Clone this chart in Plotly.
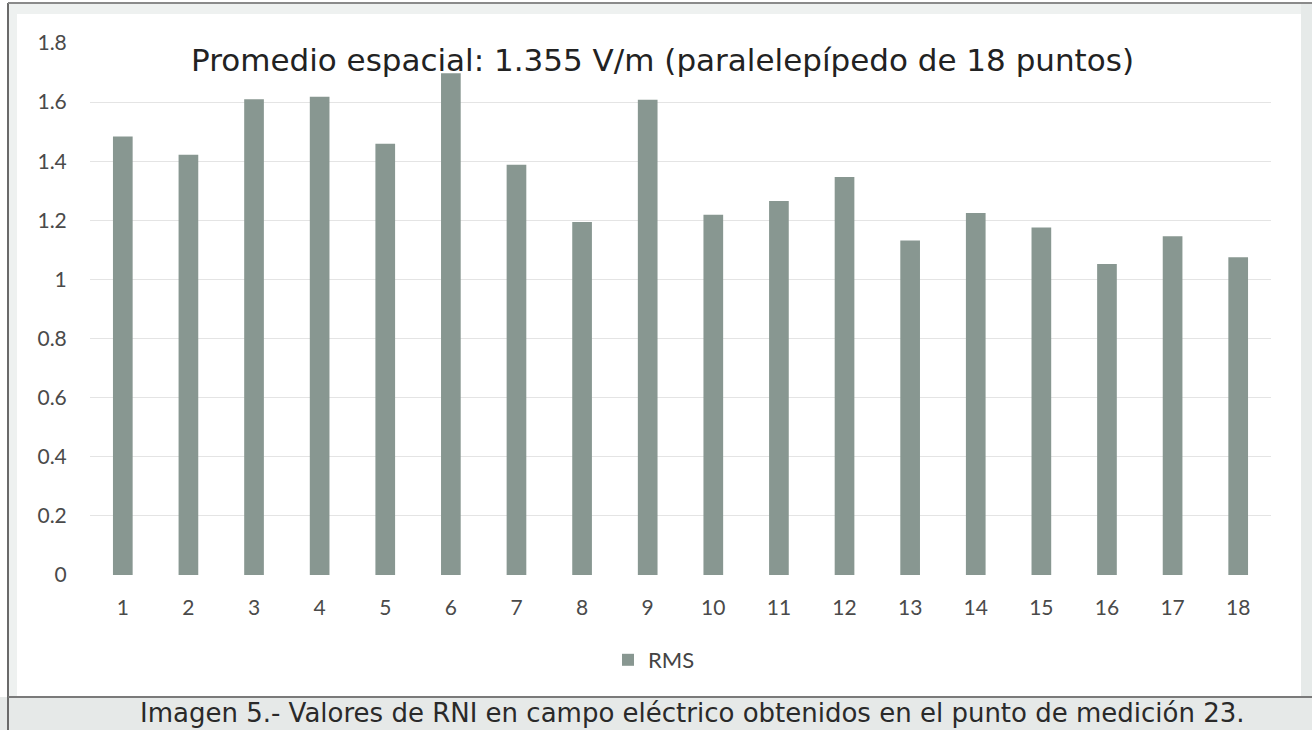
import plotly.graph_objects as go

categories = [str(i) for i in range(1, 19)]
rms_values = [1.484, 1.422, 1.610, 1.618, 1.459, 1.698, 1.388, 1.194, 1.608,
              1.219, 1.265, 1.347, 1.132, 1.225, 1.176, 1.052, 1.146, 1.075]
y_tick_vals = [0, 0.2, 0.4, 0.6, 0.8, 1.0, 1.2, 1.4, 1.6, 1.8]
y_tick_text = ["0", "0.2", "0.4", "0.6", "0.8", "1", "1.2", "1.4", "1.6", "1.8"]
series_name = "RMS"
title_text = "Promedio espacial: 1.355 V/m (paralelepípedo de 18 puntos)"
caption_text = "Imagen 5.- Valores de RNI en campo eléctrico obtenidos en el punto de medición 23."

W, H = 1312, 730
L, R, T, B = 90, 41, 43, 155
PW, PH = W - L - R, H - T - B

def px(x):
    return (x - L) / PW

def py(y):
    return (H - B - y) / PH

FONT = "Lato"
WIDE = "DejaVu Sans"
BAR = "#889791"

fig = go.Figure()
fig.add_trace(go.Bar(x=categories, y=rms_values, name=series_name,
                     marker=dict(color=BAR, line=dict(width=0)), width=0.3,
                     showlegend=True))

shapes = []
shapes.append(dict(type="rect", xref="paper", yref="paper", x0=px(0), x1=px(W), y0=py(730), y1=py(697),
                   fillcolor="#e6e9e8", line=dict(width=0), layer="below"))
shapes.append(dict(type="rect", xref="paper", yref="paper", x0=px(8), x1=px(17), y0=py(697), y1=py(3),
                   fillcolor="#eef1f0", line=dict(width=0), layer="below"))
shapes.append(dict(type="rect", xref="paper", yref="paper", x0=px(8), x1=px(1312), y0=py(14), y1=py(3),
                   fillcolor="#eef1f0", line=dict(width=0), layer="below"))
shapes.append(dict(type="rect", xref="paper", yref="paper", x0=px(1301), x1=px(1312), y0=py(697), y1=py(3),
                   fillcolor="#e6eae9", line=dict(width=0), layer="below"))
shapes.append(dict(type="line", xref="paper", yref="paper", x0=px(8), x1=px(8), y0=py(730), y1=py(3),
                   line=dict(color="#6a6a6a", width=2)))
shapes.append(dict(type="line", xref="paper", yref="paper", x0=px(8), x1=px(1312), y0=py(3), y1=py(3),
                   line=dict(color="#8a8a8a", width=2)))
shapes.append(dict(type="line", xref="paper", yref="paper", x0=px(8), x1=px(1312), y0=py(697), y1=py(697),
                   line=dict(color="#7a7a7a", width=2)))

fig.update_layout(
    width=W, height=H,
    margin=dict(l=L, r=R, t=T, b=B),
    paper_bgcolor="white", plot_bgcolor="white",
    font=dict(family=FONT, color="#4a4a4a", size=20),
    shapes=shapes,
    showlegend=True,
    legend=dict(orientation="h", x=px(654), xanchor="center", y=py(660), yanchor="middle",
                font=dict(size=22, color="#444444", family=FONT), itemwidth=30,
                bgcolor="rgba(0,0,0,0)"),
    xaxis=dict(type="category", showgrid=False, zeroline=False, showline=False,
               ticks="outside", ticklen=14, tickcolor="rgba(0,0,0,0)",
               tickfont=dict(size=21, color="#4a4a4a", family=FONT), range=[-0.5, 17.5]),
    yaxis=dict(range=[0, 1.8], tickvals=y_tick_vals, ticktext=y_tick_text,
               showgrid=True, gridcolor="#e4e4e4", gridwidth=1, zeroline=False, showline=False,
               ticks="outside", ticklen=18, tickcolor="rgba(0,0,0,0)",
               tickfont=dict(size=21, color="#4a4a4a", family=FONT)),
    annotations=[
        dict(text=title_text, xref="paper", yref="paper", x=px(662), y=py(60),
             xanchor="center", yanchor="middle", showarrow=False,
             font=dict(size=31, color="#222222", family=WIDE)),
        dict(text=caption_text, xref="paper", yref="paper", x=px(692), y=py(713),
             xanchor="center", yanchor="middle", showarrow=False,
             font=dict(size=26, color="#2a2a2a", family=WIDE)),
    ],
)

fig.write_html("out.html", config={"displayModeBar": False},
               post_script="document.body.style.margin='0';document.body.style.overflow='hidden';")
